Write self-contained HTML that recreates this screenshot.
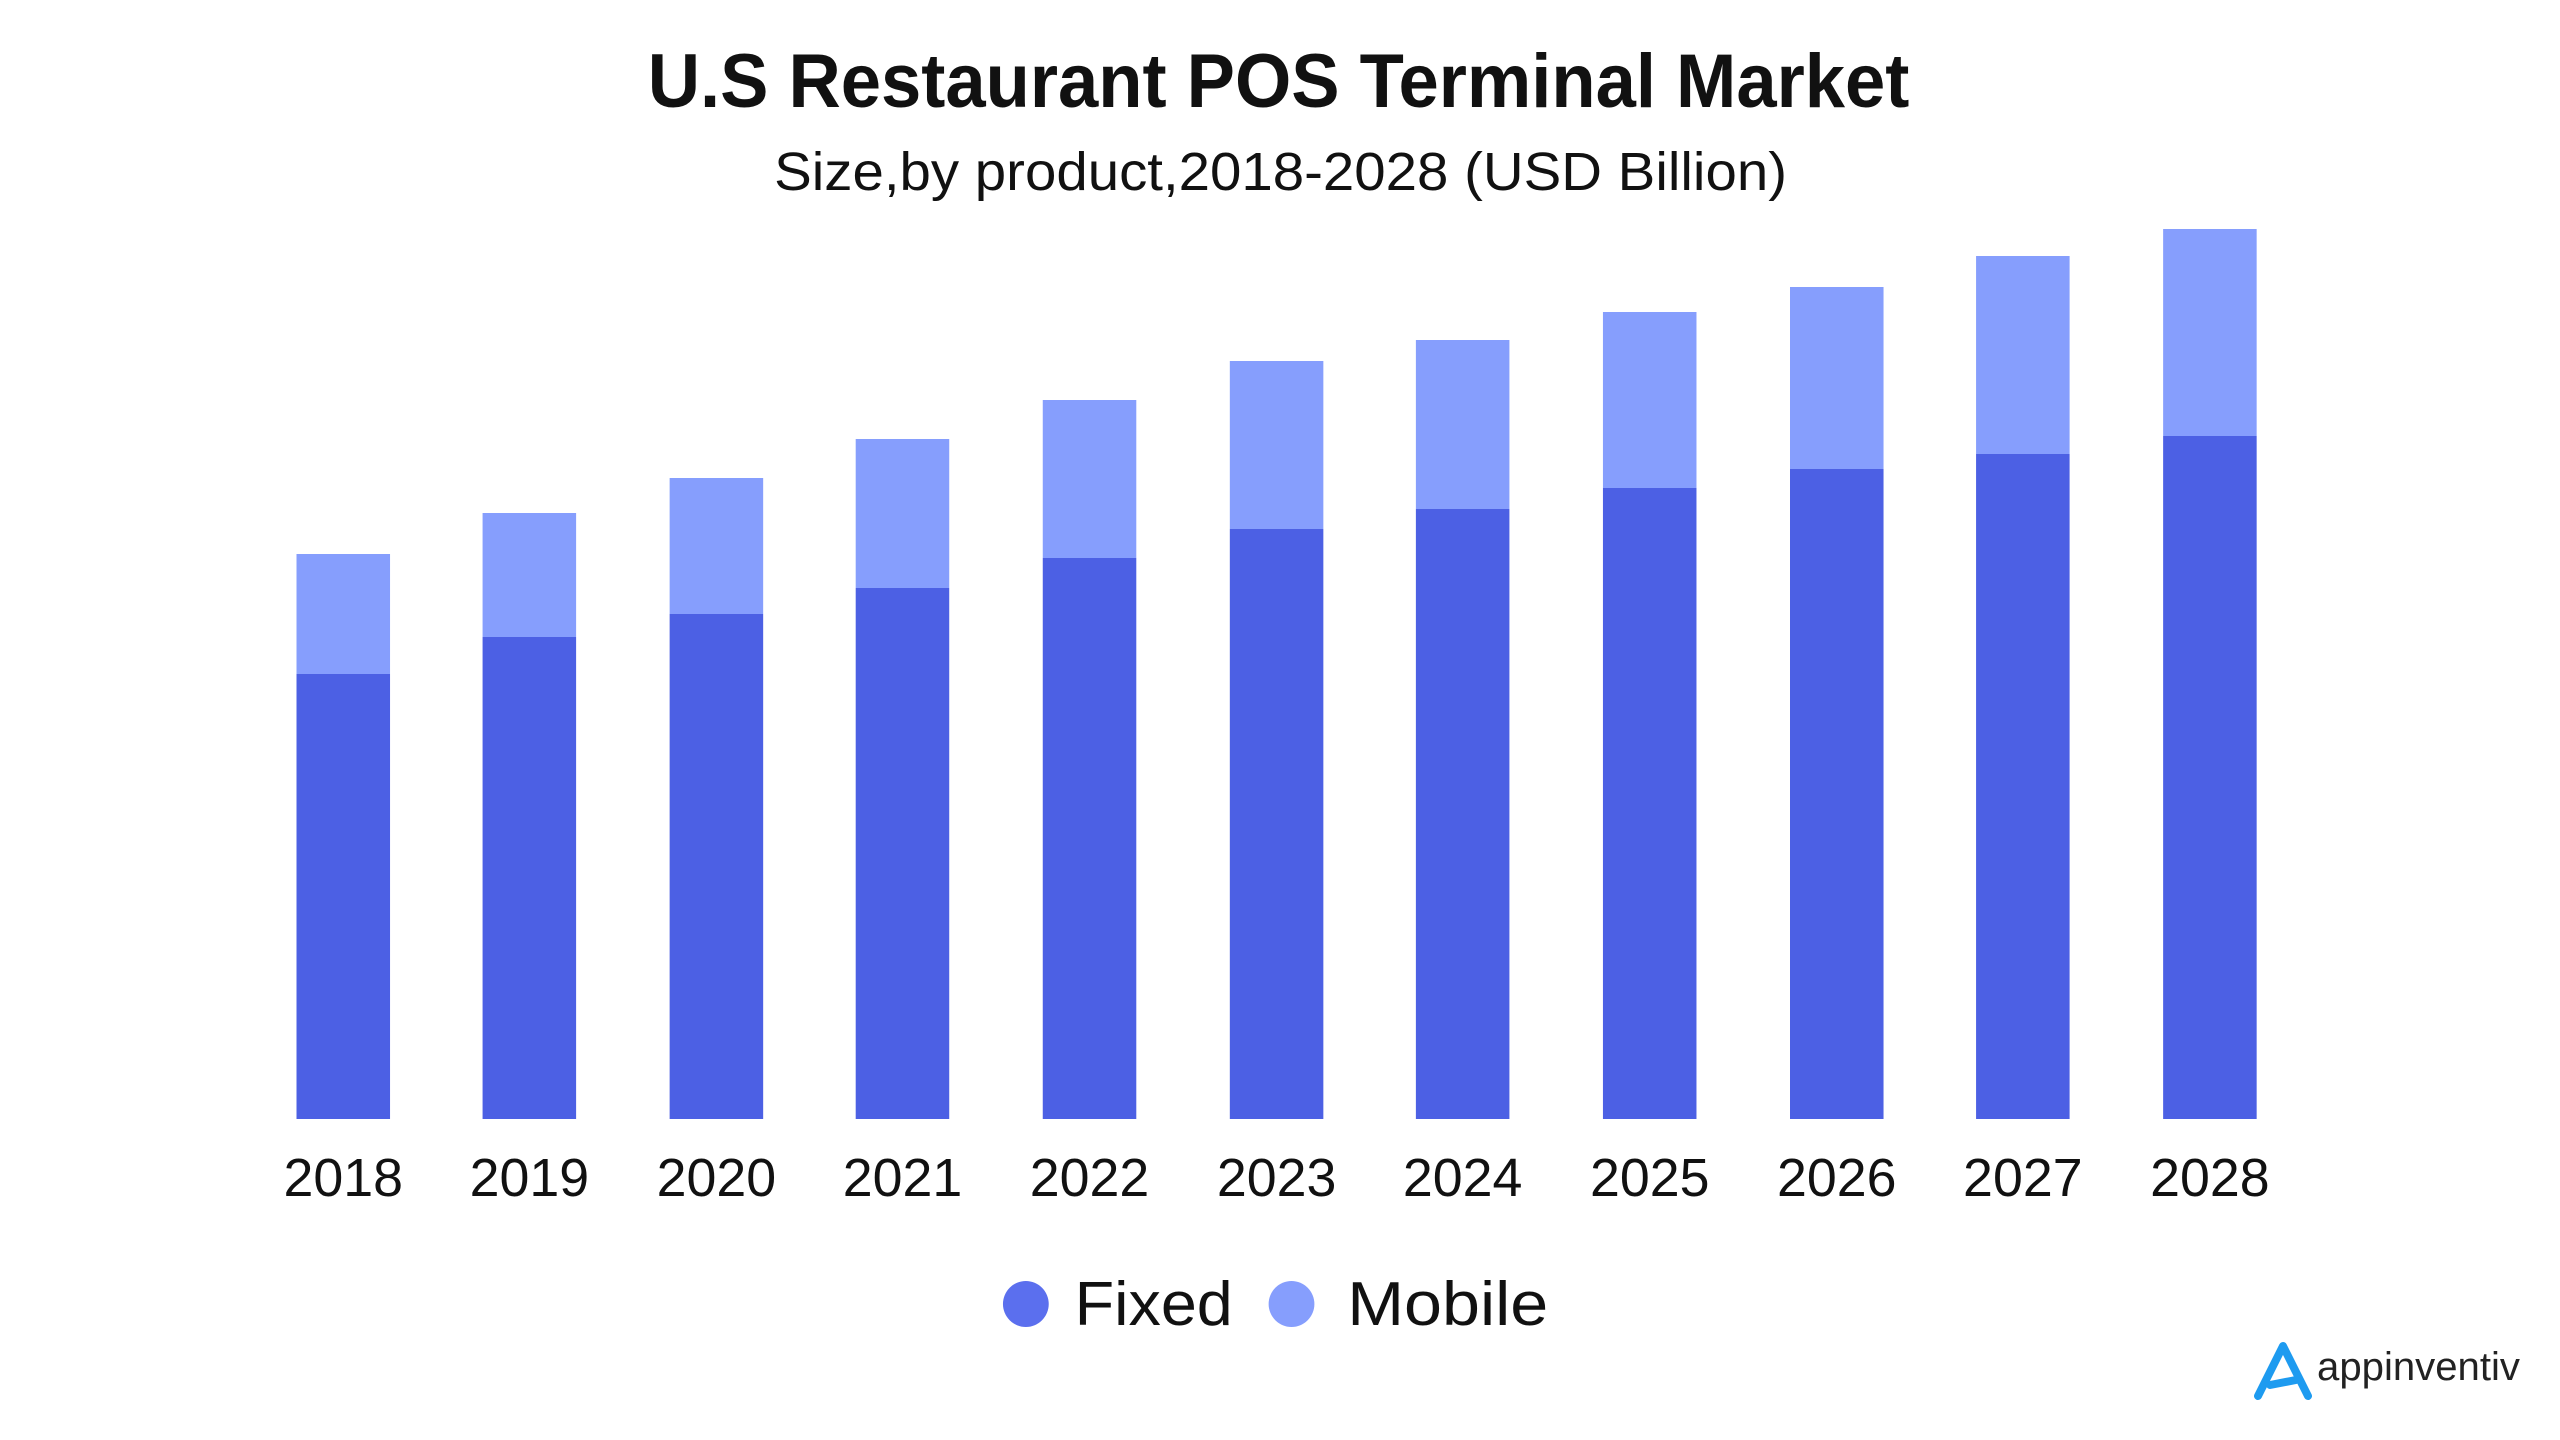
<!DOCTYPE html>
<html><head><meta charset="utf-8"><style>
html,body{margin:0;padding:0;background:#fff;}
svg{display:block;font-family:"Liberation Sans",sans-serif;}
</style></head><body>
<svg width="2560" height="1440" viewBox="0 0 2560 1440" xmlns="http://www.w3.org/2000/svg">
<rect width="2560" height="1440" fill="#fff"/>
<g transform="scale(0.995,1)">
<text x="1285" y="107" text-anchor="middle" font-size="76" font-weight="bold" fill="#111" textLength="1268" lengthAdjust="spacingAndGlyphs">U.S Restaurant POS Terminal Market</text>
<text x="1287" y="190" text-anchor="middle" font-size="54" fill="#111" textLength="1018" lengthAdjust="spacingAndGlyphs">Size,by product,2018-2028 (USD Billion)</text>
<g>
<rect x="298" y="554" width="94" height="120" fill="#869EFD"/><rect x="298" y="674" width="94" height="445" fill="#4C60E4"/>
<rect x="485" y="513" width="94" height="124" fill="#869EFD"/><rect x="485" y="637" width="94" height="482" fill="#4C60E4"/>
<rect x="673" y="478" width="94" height="136" fill="#869EFD"/><rect x="673" y="614" width="94" height="505" fill="#4C60E4"/>
<rect x="860" y="439" width="94" height="149" fill="#869EFD"/><rect x="860" y="588" width="94" height="531" fill="#4C60E4"/>
<rect x="1048" y="400" width="94" height="158" fill="#869EFD"/><rect x="1048" y="558" width="94" height="561" fill="#4C60E4"/>
<rect x="1236" y="361" width="94" height="168" fill="#869EFD"/><rect x="1236" y="529" width="94" height="590" fill="#4C60E4"/>
<rect x="1423" y="340" width="94" height="169" fill="#869EFD"/><rect x="1423" y="509" width="94" height="610" fill="#4C60E4"/>
<rect x="1611" y="312" width="94" height="176" fill="#869EFD"/><rect x="1611" y="488" width="94" height="631" fill="#4C60E4"/>
<rect x="1799" y="287" width="94" height="182" fill="#869EFD"/><rect x="1799" y="469" width="94" height="650" fill="#4C60E4"/>
<rect x="1986" y="256" width="94" height="198" fill="#869EFD"/><rect x="1986" y="454" width="94" height="665" fill="#4C60E4"/>
<rect x="2174" y="229" width="94" height="207" fill="#869EFD"/><rect x="2174" y="436" width="94" height="683" fill="#4C60E4"/>
</g>
<g font-size="54" fill="#111" text-anchor="middle">
<text x="345" y="1196">2018</text><text x="532" y="1196">2019</text><text x="720" y="1196">2020</text>
<text x="907" y="1196">2021</text><text x="1095" y="1196">2022</text><text x="1283" y="1196">2023</text>
<text x="1470" y="1196">2024</text><text x="1658" y="1196">2025</text><text x="1846" y="1196">2026</text>
<text x="2033" y="1196">2027</text><text x="2221" y="1196">2028</text>
</g>
<circle cx="1031" cy="1304" r="23" fill="#5B6FEE"/>
<text x="1080" y="1325" font-size="62" fill="#111" textLength="159" lengthAdjust="spacingAndGlyphs">Fixed</text>
<circle cx="1298" cy="1304" r="23" fill="#869EFD"/>
<text x="1354" y="1325" font-size="62" fill="#111" textLength="202" lengthAdjust="spacingAndGlyphs">Mobile</text>
</g>
<path d="M2258 1396 L2283 1346 L2308 1396 M2270 1385 L2296 1380" stroke="#1E9BF0" stroke-width="8" fill="none" stroke-linecap="round" stroke-linejoin="round"/>
<text x="2317" y="1380" font-size="40" fill="#222" textLength="203" lengthAdjust="spacingAndGlyphs">appinventiv</text>
</svg>
</body></html>
